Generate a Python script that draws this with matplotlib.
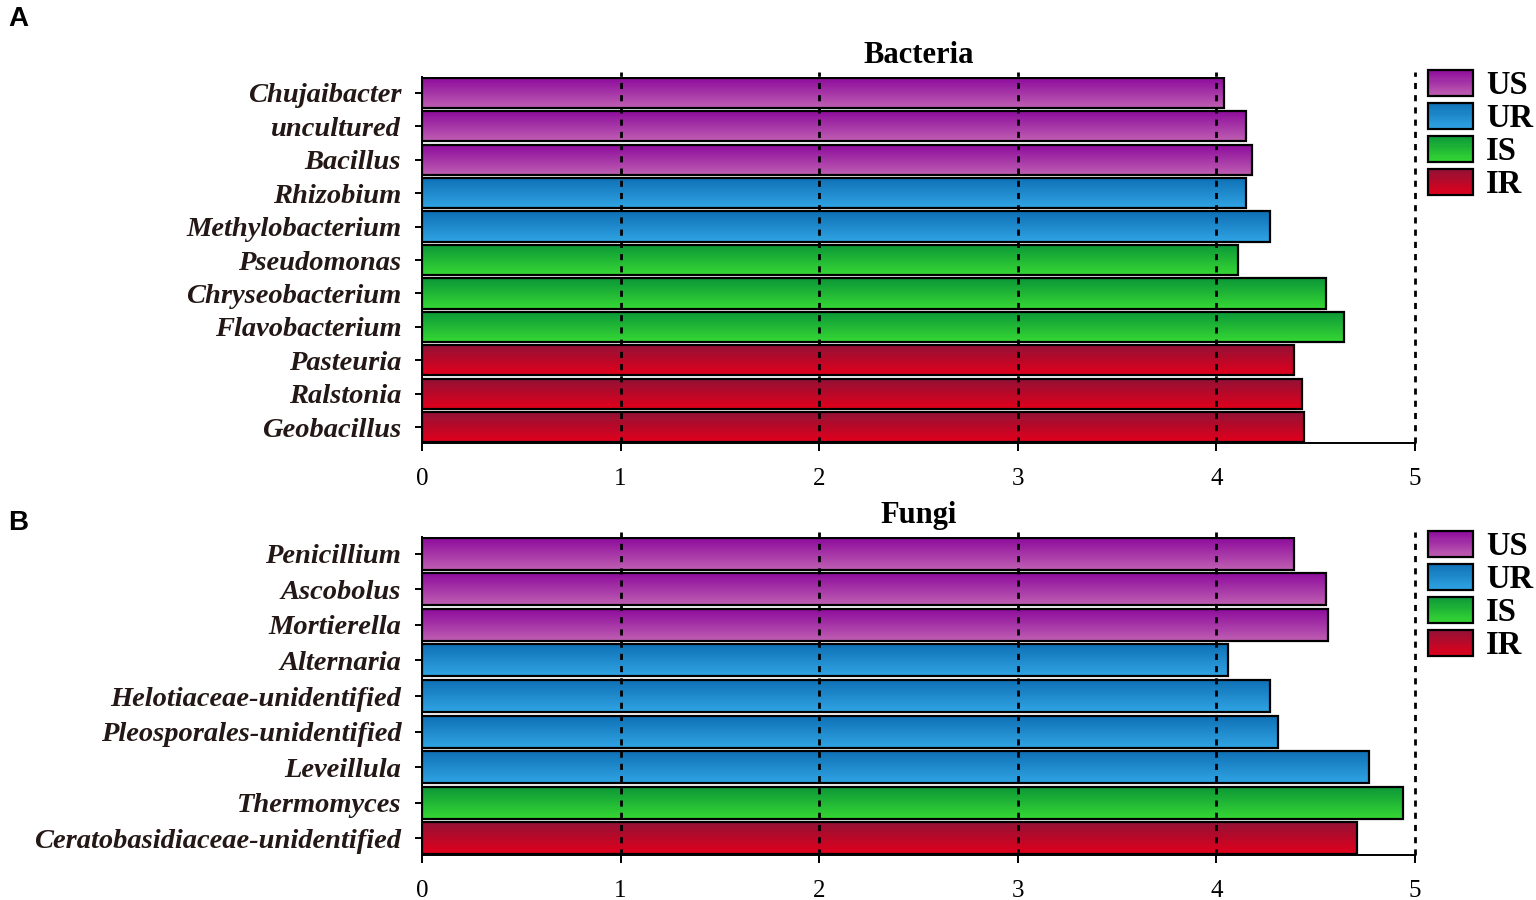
import numpy as np
import matplotlib
matplotlib.use("Agg")
import matplotlib.pyplot as plt
from matplotlib.patches import Rectangle, Patch
from matplotlib.legend_handler import HandlerBase
from matplotlib.colors import to_rgb

# ---------------- data ----------------
bact_labels = ["Chujaibacter", "uncultured", "Bacillus", "Rhizobium", "Methylobacterium",
               "Pseudomonas", "Chryseobacterium", "Flavobacterium", "Pasteuria",
               "Ralstonia", "Geobacillus"]
bact_values = [4.04, 4.15, 4.18, 4.15, 4.27, 4.11, 4.55, 4.64, 4.39, 4.43, 4.44]
bact_groups = ["US", "US", "US", "UR", "UR", "IS", "IS", "IS", "IR", "IR", "IR"]

fungi_labels = ["Penicillium", "Ascobolus", "Mortierella", "Alternaria",
                "Helotiaceae-unidentified", "Pleosporales-unidentified", "Leveillula",
                "Thermomyces", "Ceratobasidiaceae-unidentified"]
fungi_values = [4.39, 4.55, 4.56, 4.06, 4.27, 4.31, 4.77, 4.94, 4.71]
fungi_groups = ["US", "US", "US", "UR", "UR", "UR", "UR", "IS", "IR"]

groups = ["US", "UR", "IS", "IR"]
grad_top = {"US": "#8c0a9c", "UR": "#0e6fb4", "IS": "#0c9638", "IR": "#901236"}
grad_bot = {"US": "#bf5fb2", "UR": "#30a4e4", "IS": "#36d834", "IR": "#e2001c"}

xticks = [0, 1, 2, 3, 4, 5]

SERIF = "Liberation Serif"


def gradient_image(top, bot, n=64):
    t = np.array(to_rgb(top))
    b = np.array(to_rgb(bot))
    f = np.linspace(0, 1, n)[:, None]
    return (t * (1 - f) + b * f)[:, None, :]


class GradPatch(Patch):
    pass


class GradHandler(HandlerBase):
    def create_artists(self, legend, orig_handle, xdescent, ydescent, width, height,
                       fontsize, trans):
        top = np.array(to_rgb(orig_handle.top))
        bot = np.array(to_rgb(orig_handle.bot))
        n = 24
        arts = []
        for k in range(n):
            f = (k + 0.5) / n
            c = top * (1 - f) + bot * f
            y = -ydescent + height * (1 - (k + 1) / n)
            arts.append(Rectangle((-xdescent, y), width, height / n * 1.05,
                                  facecolor=c, edgecolor="none", transform=trans))
        arts.append(Rectangle((-xdescent, -ydescent), width, height, fill=False,
                              edgecolor="black", lw=1.6, transform=trans))
        return arts


def draw_panel(ax, labels, values, grps, title):
    n = len(labels)
    ypos = np.arange(n)[::-1]
    bars = ax.barh(ypos, values, height=0.9, facecolor="none", edgecolor="black",
                   linewidth=1.6, zorder=4)
    for bar, g in zip(bars, grps):
        x0, y0 = bar.get_x(), bar.get_y()
        w, h = bar.get_width(), bar.get_height()
        ax.imshow(gradient_image(grad_top[g], grad_bot[g]), extent=[x0, x0 + w, y0, y0 + h],
                  aspect="auto", origin="upper", zorder=3, interpolation="bilinear")
    ax.set_xlim(0, 5)
    ax.set_ylim(-0.47, n - 1 + 0.47)
    for xv in xticks[1:]:
        ax.axvline(xv, color="black", linestyle=(0, (2.2, 2.2)), linewidth=2.0, zorder=5,
                   ymax=1.015, clip_on=False)
    ax.set_yticks(ypos)
    ax.set_yticklabels(labels, fontfamily=SERIF, fontsize=20.5, fontweight="bold",
                       fontstyle="italic", color="#231815")
    ax.set_xticks(xticks)
    ax.set_xticklabels([str(v) for v in xticks], fontfamily=SERIF, fontsize=18)
    ax.tick_params(axis="y", direction="out", length=5, width=1.4, pad=10)
    ax.tick_params(axis="x", direction="out", length=6, width=1.4, pad=12)
    for s in ["top", "right"]:
        ax.spines[s].set_visible(False)
    ax.spines["left"].set_linewidth(1.4)
    ax.spines["bottom"].set_linewidth(1.4)
    ax.set_title(title, fontfamily=SERIF, fontsize=22, fontweight="bold", pad=10)

    handles = []
    for g in groups:
        p = GradPatch(label=g)
        p.top, p.bot = grad_top[g], grad_bot[g]
        handles.append(p)
    ax.legend(handles=handles, handler_map={GradPatch: GradHandler()},
              loc="upper left", bbox_to_anchor=(1.013, 1.02), frameon=False,
              prop={"family": SERIF, "size": 23.5, "weight": "bold"},
              handlelength=1.38, handleheight=0.86, labelspacing=0.05,
              handletextpad=0.4, borderaxespad=0, borderpad=0)


fig = plt.figure(figsize=(15.36, 9.0), dpi=100)
ax1 = fig.add_axes([422 / 1536, 1 - 443 / 900, (1415 - 422) / 1536, (443 - 77) / 900])
ax2 = fig.add_axes([422 / 1536, 1 - 855 / 900, (1415 - 422) / 1536, (855 - 537) / 900])

draw_panel(ax1, bact_labels, bact_values, bact_groups, "Bacteria")
draw_panel(ax2, fungi_labels, fungi_values, fungi_groups, "Fungi")

fig.text(8 / 1536, 1 - 19 / 900, "A", fontfamily="Liberation Sans", fontsize=20,
         fontweight="bold", va="center", ha="left")
fig.text(8 / 1536, 1 - 523 / 900, "B", fontfamily="Liberation Sans", fontsize=20,
         fontweight="bold", va="center", ha="left")

fig.savefig("out.png", dpi=100)
